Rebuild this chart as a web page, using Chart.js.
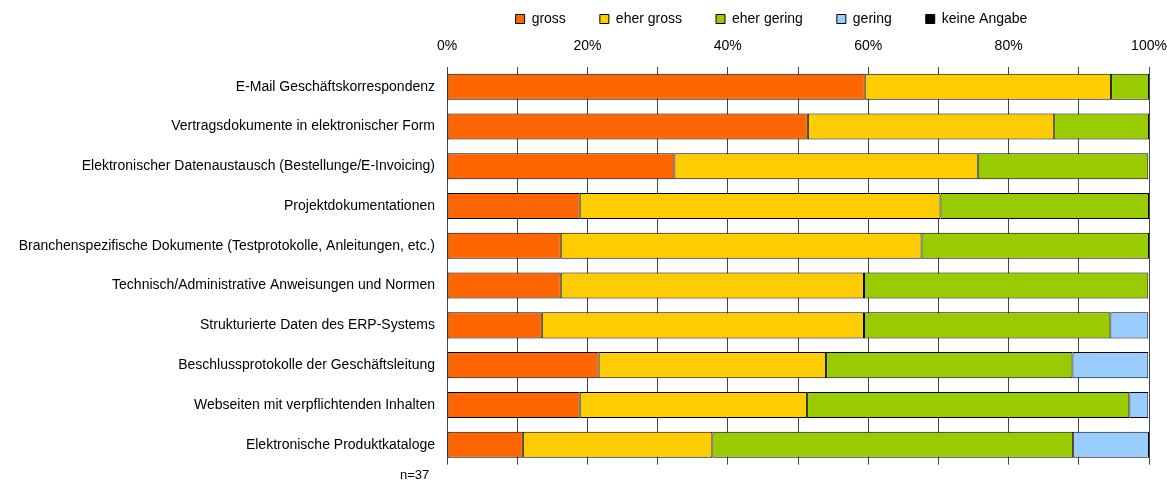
<!DOCTYPE html>
<html>
<head>
<meta charset="utf-8">
<script src="https://cdn.jsdelivr.net/npm/chart.js@4"></script>
<style>
  html, body { margin: 0; padding: 0; background: #fff; }
  #wrap { position: relative; width: 1167px; height: 485px; }
  #n { position: absolute; left: 400px; top: 467px; font: 13px "Liberation Sans", Arial, sans-serif; color: #000; }
</style>
</head>
<body>
<div id="wrap">
  <canvas id="grafic" width="1167" height="485"></canvas>
  <div id="n">n=37</div>
</div>
<script>
// categories (top to bottom)
const kategorien = [
  'E-Mail Geschäftskorrespondenz',
  'Vertragsdokumente in elektronischer Form',
  'Elektronischer Datenaustausch (Bestellunge/E-Invoicing)',
  'Projektdokumentationen',
  'Branchenspezifische Dokumente (Testprotokolle, Anleitungen, etc.)',
  'Technisch/Administrative Anweisungen und Normen',
  'Strukturierte Daten des ERP-Systems',
  'Beschlussprotokolle der Geschäftsleitung',
  'Webseiten mit verpflichtenden Inhalten',
  'Elektronische Produktkataloge'
];

// shares in percent (n=37)
const gross       = [59.5, 51.4, 32.4, 18.9, 16.2, 16.2, 13.5, 21.6, 18.9, 10.8];
const eherGross   = [35.1, 35.1, 43.2, 51.4, 51.4, 43.2, 45.9, 32.4, 32.4, 27.0];
const eherGering  = [5.4, 13.5, 24.3, 29.7, 32.4, 40.5, 35.1, 35.1, 45.9, 51.4];
const gering      = [0, 0, 0, 0, 0, 0, 5.4, 10.8, 2.7, 10.8];
const keineAngabe = [0, 0, 0, 0, 0, 0, 0, 0, 0, 0];

const tickPercent = [0, 20, 40, 60, 80, 100];

Chart.defaults.font.family = '"Liberation Sans", Arial, sans-serif';
Chart.defaults.font.size = 14;
Chart.defaults.color = '#000';

function serie(label, data, color) {
  return {
    label: label,
    data: data,
    backgroundColor: color,
    borderColor: '#000',
    borderWidth: 1,
    borderSkipped: false,
    categoryPercentage: 1,
    barPercentage: 0.655
  };
}

// legend sits a bit higher and right of the default spot
const legendeVerschieben = {
  id: 'legendeVerschieben',
  afterLayout(chart) {
    const lg = chart.legend;
    lg.left += 188;
    lg.right += 188;
    lg.top -= 26;
    lg.bottom = Math.max(lg.bottom, lg.top + 60);
  }
};

const ctx = document.getElementById('grafic').getContext('2d');

new Chart(ctx, {
  type: 'bar',
  data: {
    labels: kategorien,
    datasets: [
      serie('gross', gross, '#FF6600'),
      serie('eher gross', eherGross, '#FFCC00'),
      serie('eher gering', eherGering, '#99CC00'),
      serie('gering', gering, '#99CCFF'),
      serie('keine Angabe', keineAngabe, '#000000')
    ]
  },
  plugins: [legendeVerschieben],
  options: {
    indexAxis: 'y',
    responsive: false,
    animation: false,
    layout: { padding: { left: 0, right: 0, top: 4, bottom: 20 } },
    plugins: {
      tooltip: { enabled: false },
      legend: {
        position: 'top',
        maxHeight: 22,
        labels: { boxWidth: 9, boxHeight: 9, padding: 34, font: { size: 14 } }
      }
    },
    scales: {
      x: {
        position: 'top',
        stacked: true,
        min: 0,
        max: 100,
        border: { display: false },
        grid: { color: '#444', lineWidth: 1, drawTicks: false },
        ticks: {
          stepSize: 10,
          padding: 12,
          maxRotation: 0,
          callback: function (v) { return tickPercent.includes(v) ? v + '%' : ''; }
        },
        afterFit: function (scale) { scale.paddingLeft = 0; scale.paddingRight = 18; }
      },
      y: {
        stacked: true,
        border: { display: false },
        grid: { display: false, drawTicks: false },
        ticks: { padding: 12, autoSkip: false },
        afterFit: function (scale) { scale.width = 447; }
      }
    }
  }
});
</script>
</body>
</html>
